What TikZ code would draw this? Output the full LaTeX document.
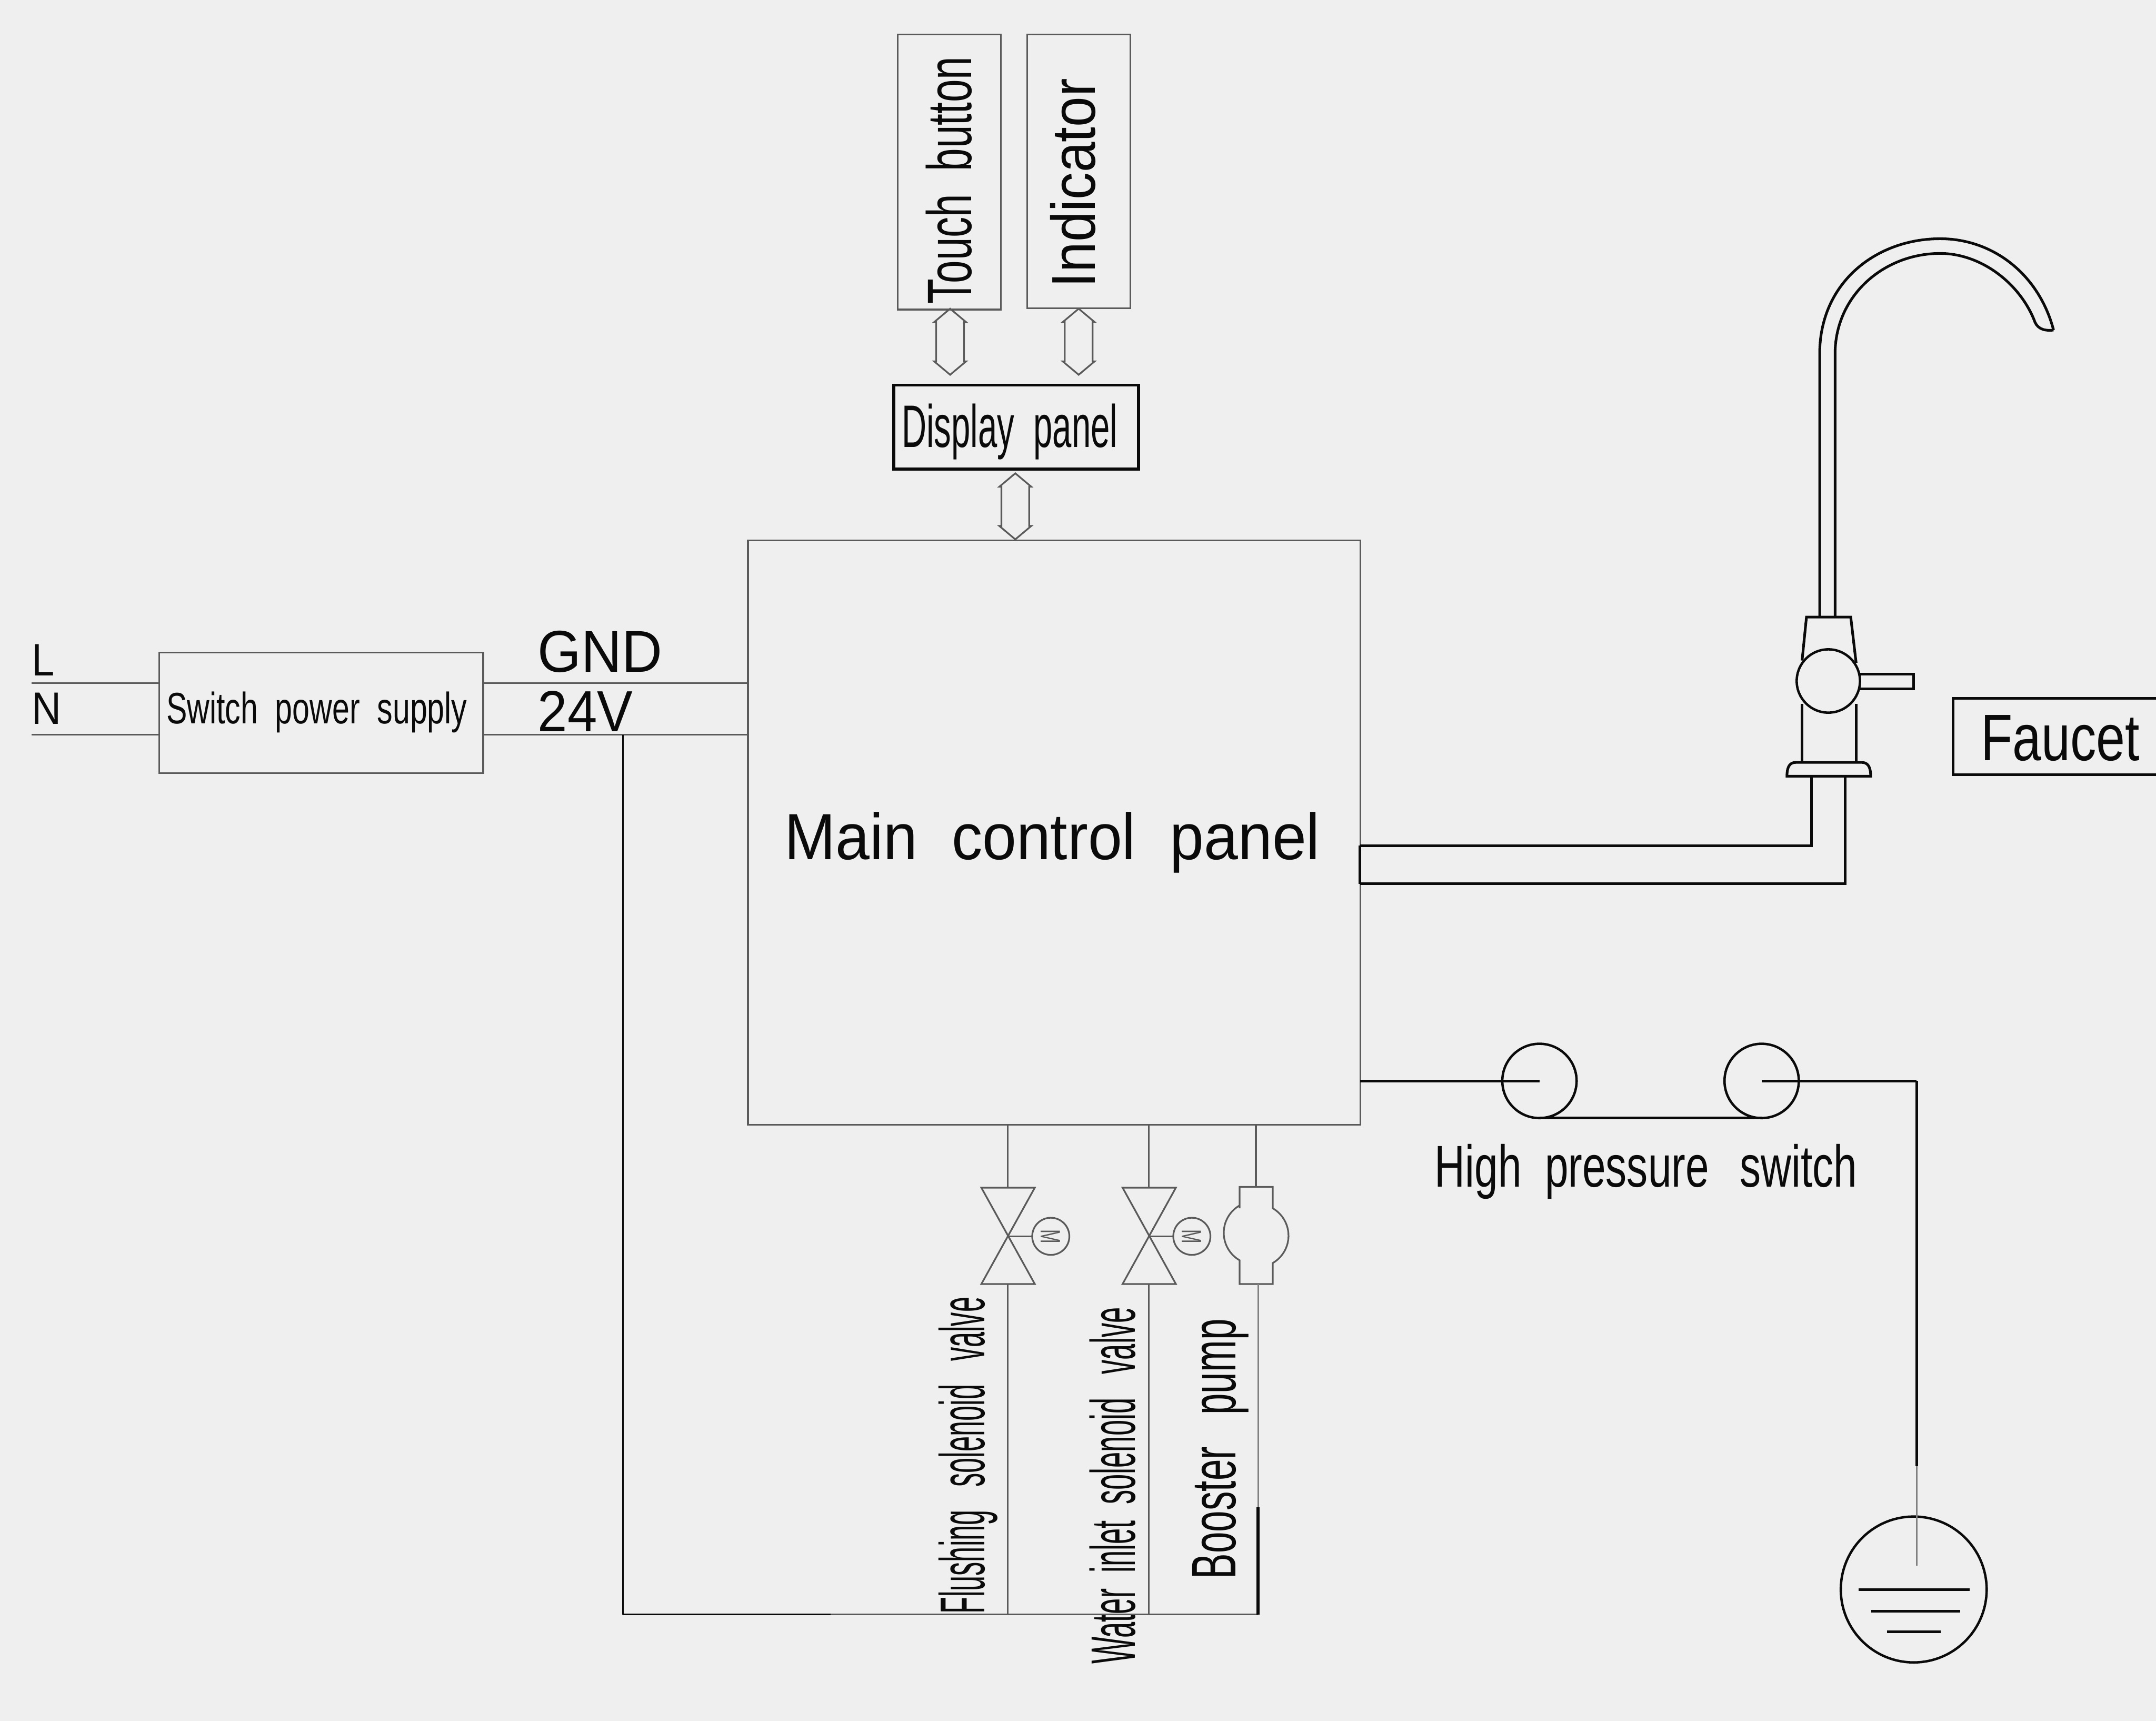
\documentclass[tikz,border=0pt]{standalone}
\usepackage{xcolor}
\usepackage{fontspec}
\setmainfont{Liberation Sans}
\usetikzlibrary{shapes,shapes.arrows,positioning}
\definecolor{paper}{HTML}{EFEFEF}
\definecolor{wiregray}{HTML}{5A5A5A}
\definecolor{ink}{HTML}{0A0A0A}
\tikzset{box/.style={rectangle,draw=wiregray,line width=0.35pt,inner sep=0,outer sep=0,anchor=north west},
  ring/.style={circle,draw=ink,line width=0.5pt,inner sep=0,outer sep=0},
  motor/.style={circle,draw=wiregray,line width=0.35pt,inner sep=0,outer sep=0,minimum size=0.27cm,font=\fontsize{5.8}{6}\selectfont,text=wiregray},
  dblarrow/.style={double arrow,rotate=90,draw=wiregray,line width=0.35pt,inner sep=0,outer sep=0,text height=0.19cm,text depth=0pt,minimum width=0.22cm,minimum height=0.48cm,double arrow head extend=0.015cm,double arrow tip angle=100},
  wire/.style={draw=wiregray,line width=0.35pt},
  heavy/.style={draw=ink,line width=0.55pt},
  lbl/.style={inner sep=0,anchor=base west,text=ink}}

\begin{document}
\begin{tikzpicture}[x=0.01cm,y=-0.01cm,line join=miter]
        \fill[paper] (0,0) rectangle (1568,1251.3);
        \useasboundingbox (0,0) rectangle (1568,1251.3);

        \node[box,minimum width=0.75cm,minimum height=2cm] (touch) at (653,25) {};
        \node[box,minimum width=0.75cm,minimum height=1.99cm] (indicator) at (747,25) {};
        \node[box,draw=ink,line width=0.6pt,minimum width=1.78cm,minimum height=0.61cm] (display) at (650,280) {};
        \node[box,minimum width=4.45cm,minimum height=4.245cm] (main) at (544,393) {};
        \node[box,minimum width=2.355cm,minimum height=0.875cm] (supply) at (115.8,474.5) {};

        \node[lbl,rotate=90,xscale=.655,font=\fontsize{13}{13}\selectfont] (touchtext) at (706.6,221.5) {Touch\ \ button};
        \node[lbl,rotate=90,xscale=.88,font=\fontsize{12.8}{13}\selectfont] (indicatortext) at (796.3,209.7) {Indicator};
        \node[lbl,xscale=.573,font=\fontsize{12.4}{13}\selectfont] (displaytext) at (655.5,325.3) {Display\ \ panel};
        \node[lbl,xscale=.707,font=\fontsize{9.1}{10}\selectfont] (supplytext) at (120.5,526.1) {Switch\ \ power\ \ supply};
        \node[lbl,xscale=.94,font=\fontsize{13.5}{14}\selectfont] (maintext) at (570,625) {Main\ \ control\ \ panel};
        \node[lbl,xscale=.9,font=\fontsize{9.4}{10}\selectfont] (ltext) at (22.5,491.4) {L};
        \node[lbl,xscale=.9,font=\fontsize{9.4}{10}\selectfont] (ntext) at (22.5,526.6) {N};
        \node[lbl,xscale=.95,font=\fontsize{12.2}{13}\selectfont] (gndtext) at (390.5,488.6) {GND};
        \node[lbl,xscale=.92,font=\fontsize{12}{13}\selectfont] (voltext) at (390.5,532) {24V};
        \node[lbl,xscale=.715,font=\fontsize{12.2}{13}\selectfont] (hightext) at (1043,862.9) {High\ \ pressure\ \ \hspace{2.2pt}switch};
        \node[lbl,xscale=.79,font=\fontsize{13.6}{14}\selectfont] (faucettext) at (1440,552.8) {Faucet};
        \node[lbl,rotate=90,xscale=.435,font=\fontsize{13.1}{14}\selectfont] (flushtext) at (716,1174) {Flushing\ \ \ solenoid\ \ \ valve};
        \node[lbl,rotate=90,xscale=.455,font=\fontsize{13}{14}\selectfont] (inlettext) at (825.4,1210.3) {Water\ \ inlet\ \ solenoid\ \ \ valve};
        \node[lbl,rotate=90,xscale=.61,font=\fontsize{13}{14}\selectfont] (pumptext) at (898.6,1148.6) {Booster\ \ \ pump};

        \node[dblarrow] (arrowa) at (691,248.5) {};
        \node[dblarrow] (arrowb) at (784.5,248.5) {};
        \node[dblarrow] (arrowc) at (738.4,368.2) {};

        \coordinate (la) at (22.8,496.7);
        \coordinate (lb) at (22.8,534.3);
        \coordinate (tap) at (453,534.3);
        \coordinate (busa) at (453,1174);
        \coordinate (busb) at (604,1174);
        \coordinate (busc) at (733,1174);
        \coordinate (busd) at (835.6,1174);
        \coordinate (buse) at (915,1174);
        \coordinate (bend) at (915,1096);

        \draw [wire] (la) to (la -| supply.west);
        \draw [wire] (lb) to (lb -| supply.west);
        \draw [wire] (la -| supply.east) to (la -| main.west);
        \draw [wire] (lb -| supply.east) to (lb -| main.west);
        \draw [wire,draw=ink] (tap) to (busa);
        \draw [wire,draw=ink] (busa) to (busb);
        \draw [wire] (busb) to (buse);

        \coordinate (fv) at (733,899);
        \coordinate (iv) at (835.6,899);
        \node[motor,rotate=-90] (fm) at (764.2,899) {\scalebox{.6}[1]{M}};
        \node[motor,rotate=-90] (im) at (866.8,899) {\scalebox{.6}[1]{M}};
        \draw [wire] (713.7,863.6) -- (752.6,863.6) -- (713.7,933.7) -- (752.6,933.7) -- cycle;
        \draw [wire] (816.4,863.6) -- (855.2,863.6) -- (816.4,933.7) -- (855.2,933.7) -- cycle;
        \draw [wire,line width=0.3pt] (fv) to (fm);
        \draw [wire,line width=0.3pt] (iv) to (im);
        \draw [wire] (fv |- main.south) to (733,863.6);
        \draw [wire] (733,933.7) to (busc);
        \draw [wire] (iv |- main.south) to (835.6,863.6);
        \draw [wire] (835.6,933.7) to (busd);

        \coordinate (pa) at (913.4,863.1);
        \coordinate (pb) at (915,933.7);
        \draw [wire] (901.5,878.6) -- (901.5,863.1) -- (925.6,863.1) -- (925.6,878.6)
            arc[start angle=-60,end angle=60,radius=23] -- (925.6,933.7) -- (901.5,933.7) -- (901.5,916.4)
            arc[start angle=120,end angle=240,radius=23] -- cycle;
        \draw [wire] (pa |- main.south) to (pa);
        \draw [wire,draw=gray] (pb) to (bend);
        \draw [heavy,line width=0.6pt] (bend) to (buse);

        \node[ring,minimum size=0.54cm] (sa) at (1119.6,786) {};
        \node[ring,minimum size=0.54cm] (sb) at (1281.2,786) {};
        \node[ring,minimum size=1.06cm] (earth) at (1391.8,1155.8) {};
        \coordinate (corner) at (1394,786);
        \coordinate (dropa) at (1394,863);
        \coordinate (dropb) at (1394,1066);
        \coordinate (dropc) at (1394,1138.6);
        \draw [heavy] (sa.center -| main.east) to (sa.center);
        \draw [heavy] (sa.south) to (sb.south);
        \draw [heavy] (sb.center) to (corner);
        \draw [heavy] (corner) to (dropa);
        \draw [wire,draw=ink,line width=0.45pt] (dropa) to (dropb);
        \draw [wire,draw=gray,line width=0.3pt] (dropb) to (dropc);
        \draw [heavy] (1351.8,1155.9) to (1432.4,1155.9);
        \draw [heavy] (1361,1171.7) to (1425.4,1171.7);
        \draw [heavy] (1372.2,1186.5) to (1411.4,1186.5);

        \draw [heavy] (1323.4,448.7) -- (1323.4,257.4) .. controls (1323.4,205) and (1365,173.6) .. (1411,173.6) .. controls (1450,173.6) and (1483,200) .. (1493.5,240);
        \draw [heavy] (1334.6,448.7) -- (1334.6,257.4) .. controls (1334.6,215) and (1370,184.3) .. (1411,184.3) .. controls (1440,184.3) and (1468,205) .. (1479.3,232.5) .. controls (1481,238) and (1485,241) .. (1493.5,240);
        \draw [heavy] (1310.6,480.3) -- (1313.8,448.7) -- (1346,448.7) -- (1349.9,482);
        \node[ring,minimum size=0.46cm] (knob) at (1329.7,495.2) {};
        \draw [heavy] (1352.6,490.2) -- (1391.7,490.2) -- (1391.7,500.9) -- (1352.6,500.9);
        \draw [heavy] (1310.6,511.9) -- (1310.6,554.4);
        \draw [heavy] (1349.9,511.9) -- (1349.9,554.4);
        \draw [heavy] (1299.6,564.4) .. controls (1299.6,557) and (1302,554.4) .. (1306,554.4) -- (1354,554.4) .. controls (1358,554.4) and (1360.5,557) .. (1360.5,564.4) -- cycle;
        \draw [heavy] (1317.6,564.4) -- (1317.6,615) -- (989,615);
        \draw [heavy] (1342,564.4) -- (1342,642.6) -- (989,642.6);
        \draw [heavy] (989,615) -- (989,642.6);
        \draw [heavy] (1568,507.9) -- (1420.3,507.9) -- (1420.3,563.4) -- (1568,563.4);
    \end{tikzpicture}
\end{document}
